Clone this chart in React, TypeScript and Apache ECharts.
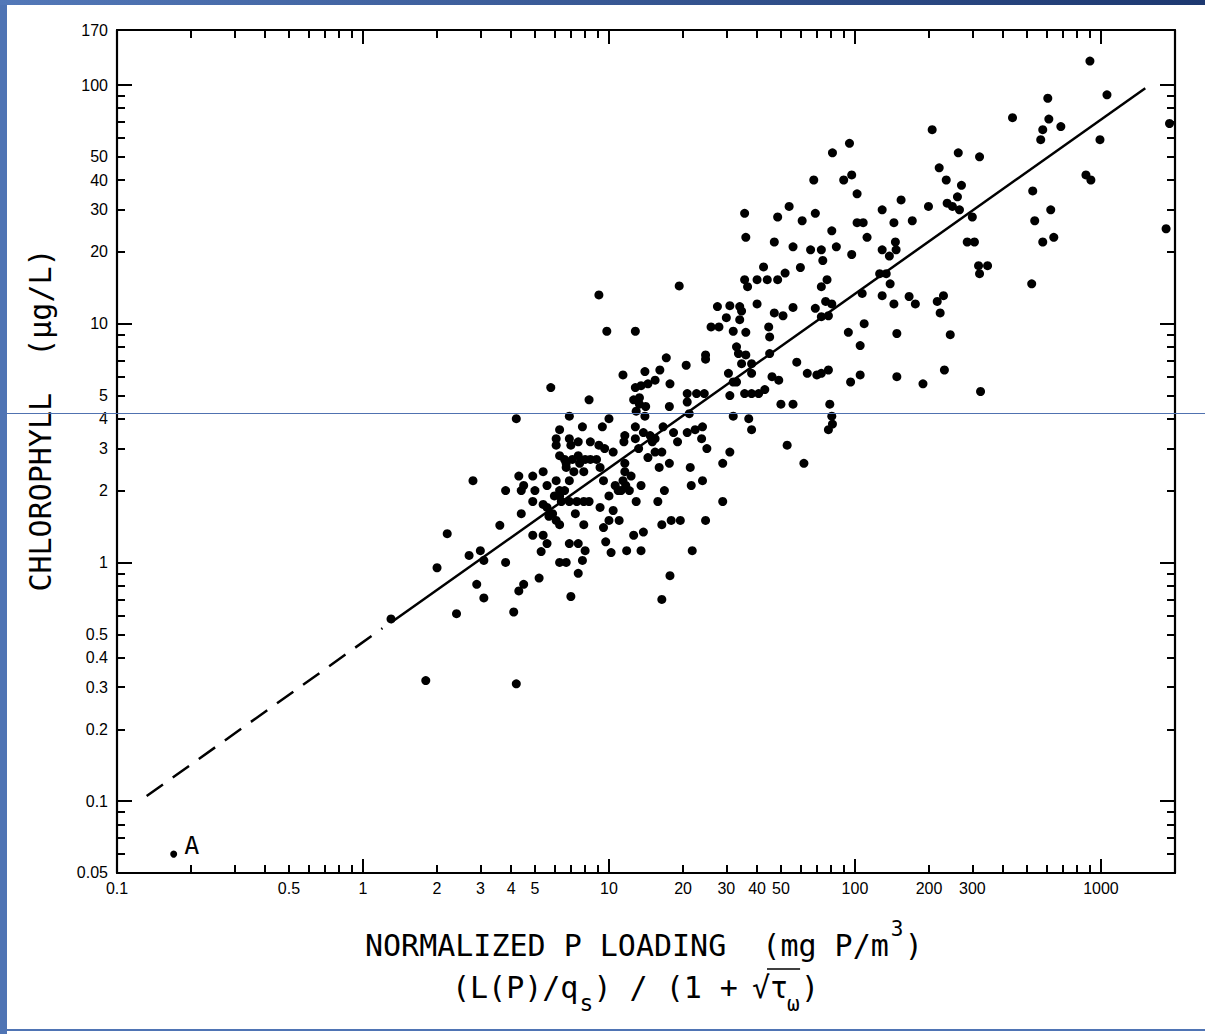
import React, { useEffect, useRef } from "react";
import * as echarts from "echarts";

// ---------- axes ----------
const X_MIN = 0.1;
const X_MAX = 2000;
const Y_MIN = 0.05;
const Y_MAX = 170;
const xTickLabels = [0.1, 0.5, 1, 2, 3, 4, 5, 10, 20, 30, 40, 50, 100, 200, 300, 1000];
const yTickLabels = [0.05, 0.1, 0.2, 0.3, 0.4, 0.5, 1, 2, 3, 4, 5, 10, 20, 30, 40, 50, 100, 170];
const xMinorTicks = [0.2, 0.3, 0.4, 0.5, 0.6, 0.7, 0.8, 0.9, 2, 3, 4, 5, 6, 7, 8, 9, 20, 30, 40, 50, 60, 70, 80, 90, 200, 300, 400, 500, 600, 700, 800, 900];
const xMajorTicks = [1, 10, 100, 1000];
const yMinorTicks = [0.06, 0.07, 0.08, 0.09, 0.2, 0.3, 0.4, 0.5, 0.6, 0.7, 0.8, 0.9, 2, 3, 4, 5, 6, 7, 8, 9, 20, 30, 40, 50, 60, 70, 80, 90];
const yMajorTicks = [0.1, 1, 10, 100];

// ---------- fitted line ----------
const fitDashed = [[0.132, 0.105], [1.2, 0.53]];
const fitSolid = [[1.3, 0.56], [1514, 97]];

// ---------- lake "A" ----------
const pointA = [0.17, 0.06];

// ---------- observations: [normalized P loading, chlorophyll] ----------
const lakesLowLoad = [
  [1.3, 0.58], [1.8, 0.32], [4.2, 0.31], [2.0, 0.95], [2.2, 1.32], [2.4, 0.61], [2.7, 1.07], [2.8, 2.2],
  [2.9, 0.81], [3.0, 1.12], [3.1, 0.71], [3.1, 1.02], [3.6, 1.43], [3.8, 1.0], [4.1, 0.62], [4.2, 4.0],
  [4.3, 0.76], [4.5, 0.81], [3.8, 2.0], [4.4, 2.0], [4.4, 1.6], [4.3, 2.3], [4.5, 2.1], [4.9, 2.3],
  [4.9, 1.8], [4.9, 1.3], [5.0, 2.0], [5.2, 0.86], [5.3, 1.11],
];

const lakesMidLoad = [
  [5.4, 2.4], [5.4, 1.75], [5.4, 1.3], [5.6, 1.2], [5.6, 1.7], [5.6, 2.1], [5.7, 1.56], [5.8, 5.4],
  [5.9, 1.6], [6.0, 1.9], [6.1, 2.2], [6.1, 1.5], [6.1, 3.3], [6.1, 3.1], [6.3, 3.6], [6.3, 2.0],
  [6.3, 1.44], [6.3, 1.0], [6.3, 2.8], [6.3, 1.9], [6.4, 1.8], [6.6, 2.7], [6.6, 2.0], [6.7, 2.6],
  [6.7, 2.5], [6.7, 1.0], [6.9, 4.1], [6.9, 1.8], [6.9, 1.2], [6.9, 3.3], [6.9, 2.2], [7.0, 3.1],
  [7.0, 0.72], [7.1, 2.7], [7.2, 2.4], [7.3, 1.6], [7.4, 1.8], [7.5, 1.2], [7.5, 0.9], [7.5, 3.2],
  [7.5, 2.8], [7.6, 2.6], [7.8, 1.02], [7.8, 3.7], [7.9, 2.4], [7.9, 1.8], [7.9, 1.44], [8.0, 2.7],
  [8.0, 1.12], [8.3, 4.8], [8.3, 1.8], [8.4, 2.7], [8.4, 3.2], [8.9, 2.7], [9.1, 13.2], [9.1, 3.1],
  [9.2, 2.5], [9.2, 1.7], [9.4, 3.7], [9.5, 2.2], [9.5, 1.4], [9.6, 3.0], [9.7, 1.22], [9.8, 9.3],
];

const lakesModerateLoad = [
  [10, 4.0], [10, 1.9], [10, 1.5], [10.2, 1.1], [10.4, 2.9], [10.4, 1.65], [10.6, 2.1], [10.9, 2.0],
  [11.0, 1.5], [11.2, 2.0], [11.4, 6.1], [11.4, 2.2], [11.5, 3.2], [11.6, 3.4], [11.6, 2.6], [11.6, 2.4],
  [11.7, 2.1], [11.8, 1.12], [12.1, 2.0], [12.3, 2.3], [12.6, 4.8], [12.6, 1.3], [12.8, 9.3], [12.8, 5.4],
  [12.8, 3.7], [12.8, 3.3], [12.9, 4.3], [12.9, 1.8], [13.2, 3.0], [13.3, 4.9], [13.3, 4.6], [13.5, 5.5],
  [13.5, 2.1], [13.5, 1.12], [13.8, 3.5], [13.8, 1.34], [14.0, 6.3], [14.0, 4.1], [14.1, 4.5], [14.4, 5.6],
  [14.4, 2.75], [14.7, 3.4], [15.0, 3.2], [15.4, 5.8], [15.4, 3.3], [15.4, 2.9], [15.8, 1.8], [16.0, 2.5],
  [16.1, 6.4], [16.4, 2.9], [16.4, 1.44], [16.4, 0.7], [16.6, 3.7], [16.8, 2.0], [17.1, 7.2], [17.6, 4.5],
  [17.6, 2.6], [17.7, 5.6], [17.7, 0.88], [17.9, 1.5], [18.3, 3.5], [19, 3.2], [19.3, 14.4], [19.5, 1.5],
  [20.6, 6.7], [20.8, 5.1], [20.8, 4.7], [20.8, 3.5], [21.2, 4.2], [21.4, 2.5], [21.6, 2.1], [21.8, 1.12],
  [22.4, 3.6], [22.7, 5.1], [23.8, 3.3], [24, 3.7], [24, 2.2], [24.4, 5.1], [24.7, 7.4], [24.7, 7.1],
  [24.7, 1.5], [25, 3.0], [26, 9.7], [27.6, 11.8], [28, 9.7], [29, 2.6], [29, 1.8], [30, 10.6],
];

const lakesHighLoad = [
  [30.6, 6.2], [31, 11.9], [31, 5.0], [31, 2.9], [32, 9.3], [32, 5.7], [32, 4.1], [33, 8.0],
  [33, 5.7], [33.6, 7.5], [34, 11.8], [34, 10.4], [34.6, 11.3], [34.6, 6.8], [35.6, 15.3], [35.6, 5.1],
  [35.6, 29], [36, 7.4], [36, 23], [36, 9.2], [36.6, 14.3], [37, 4.0], [38, 6.8], [38, 6.2],
  [38, 5.1], [38, 3.6], [40, 15.3], [40, 12.1], [40.6, 5.1], [42.5, 17.3], [43, 5.3], [44, 15.3],
  [44.6, 9.7], [45, 7.5], [45, 8.8], [46, 6.0], [47, 11.1], [47, 22], [48.5, 28], [48.5, 15.3],
  [49, 5.8], [50, 4.6], [51, 10.8], [52, 16.3], [53, 3.1], [54, 31], [56, 21], [56, 4.6],
  [56, 11.7], [58, 6.9], [60, 17.2], [61, 27], [62, 2.6], [64, 6.2], [66, 20.4], [68, 40],
  [69, 29], [69, 11.6], [70, 6.1], [73, 20.4], [73, 14.3], [73, 10.7], [73, 6.2], [74, 18.4],
  [76, 12.4], [77, 15.3], [78, 10.8], [78, 6.4], [78, 3.6], [79, 4.6], [80.5, 24.5], [80.5, 12.1],
  [80.5, 4.1], [81, 52], [81, 3.8], [84, 21], [90, 40], [94, 9.2], [95, 57], [96, 5.7],
  [97, 42], [97, 19.5],
];

const lakesVeryHighLoad = [
  [102, 35], [102, 26.5], [105, 8.1], [105, 6.1], [107, 13.4], [108, 26.5], [109, 10], [112, 23],
  [126, 16.2], [129, 30], [129, 20.4], [129, 13.1], [134, 16.2], [138, 19.2], [139, 14.7], [144, 26.5],
  [144, 12.1], [146, 22], [147, 20.4], [148, 9.1], [148, 6.0], [154, 33], [166, 13], [171, 27],
  [176, 12.1], [189, 5.6], [199, 31], [206, 65], [216, 12.4], [220, 45], [222, 11.1], [229, 13.1],
  [231, 6.4], [235, 40], [237, 32], [244, 9.0], [249, 31], [261, 34], [263, 52], [266, 30],
  [271, 38], [286, 22], [300, 28], [306, 22], [318, 17.5], [321, 50], [321, 16.2], [324, 5.2],
  [346, 17.5], [437, 73], [523, 14.7], [528, 36], [538, 27], [569, 59], [580, 65], [580, 22],
  [608, 88], [614, 72], [625, 30], [643, 23], [687, 67], [869, 42], [902, 126], [910, 40],
  [991, 59], [1058, 91], [1840, 25], [1900, 69],
];

const MONO = '"DejaVu Sans Mono", "Liberation Mono", monospace';
const TICK_FONT = '"Liberation Sans", Arial, sans-serif';

const fmt = (v: number) => String(parseFloat(Number(v).toPrecision(2)));
const edgeSafe = (arr: number[], min: number, max: number) =>
  arr.map((v) => (v <= min ? v * 1.0001 : v >= max ? v * 0.9999 : v));

function logAxis(min: number, max: number, position: string, extra: any) {
  return {
    type: "log",
    logBase: 10,
    min,
    max,
    position,
    splitLine: { show: false },
    minorTick: { show: false },
    minorSplitLine: { show: false },
    axisLine: { show: false, onZero: false },
    axisLabel: { show: false },
    axisTick: { show: false },
    ...extra,
  };
}

const tickStyle = { color: "#000", width: 2 };
const lineStyleAxis = { color: "#000", width: 2.2 };

function buildOption() {
  const labelStyle = { color: "#000", fontSize: 16, fontFamily: TICK_FONT, formatter: fmt };
  const xAxis = [
    logAxis(X_MIN, X_MAX, "bottom", {
      axisLine: { show: true, onZero: false, lineStyle: lineStyleAxis },
      axisTick: { show: true, inside: true, length: 8, customValues: xMinorTicks, lineStyle: tickStyle },
      axisLabel: { show: true, margin: 7, customValues: edgeSafe(xTickLabels, X_MIN, X_MAX), ...labelStyle },
    }),
    logAxis(X_MIN, X_MAX, "bottom", {
      axisTick: { show: true, inside: true, length: 14, customValues: xMajorTicks, lineStyle: tickStyle },
    }),
    logAxis(X_MIN, X_MAX, "top", {
      axisLine: { show: true, onZero: false, lineStyle: lineStyleAxis },
      axisTick: { show: true, inside: true, length: 8, customValues: xMinorTicks, lineStyle: tickStyle },
    }),
    logAxis(X_MIN, X_MAX, "top", {
      axisTick: { show: true, inside: true, length: 14, customValues: xMajorTicks, lineStyle: tickStyle },
    }),
  ];
  const yAxis = [
    logAxis(Y_MIN, Y_MAX, "left", {
      axisLine: { show: true, onZero: false, lineStyle: lineStyleAxis },
      axisTick: { show: true, inside: true, length: 8, customValues: yMinorTicks, lineStyle: tickStyle },
      axisLabel: { show: true, margin: 9, customValues: edgeSafe(yTickLabels, Y_MIN, Y_MAX), ...labelStyle },
    }),
    logAxis(Y_MIN, Y_MAX, "left", {
      axisTick: { show: true, inside: true, length: 15, customValues: yMajorTicks, lineStyle: tickStyle },
    }),
    logAxis(Y_MIN, Y_MAX, "right", {
      axisLine: { show: true, onZero: false, lineStyle: lineStyleAxis },
      axisTick: { show: true, inside: true, length: 8, customValues: yMinorTicks, lineStyle: tickStyle },
    }),
    logAxis(Y_MIN, Y_MAX, "right", {
      axisTick: { show: true, inside: true, length: 15, customValues: yMajorTicks, lineStyle: tickStyle },
    }),
  ];

  const scatterGroups = [lakesLowLoad, lakesMidLoad, lakesModerateLoad, lakesHighLoad, lakesVeryHighLoad];
  const series: any[] = scatterGroups.map((g) => ({
    type: "scatter",
    data: g,
    symbol: "circle",
    symbolSize: 9,
    itemStyle: { color: "#000", opacity: 1 },
    xAxisIndex: 0,
    yAxisIndex: 0,
    silent: true,
    z: 3,
  }));
  series.push({
    type: "scatter",
    data: [
      {
        value: pointA,
        label: {
          show: true,
          formatter: "A",
          position: "right",
          distance: 7,
          offset: [0, -9],
          fontSize: 25,
          fontFamily: MONO,
          color: "#000",
        },
      },
    ],
    symbolSize: 7,
    itemStyle: { color: "#000", opacity: 1 },
    xAxisIndex: 0,
    yAxisIndex: 0,
    silent: true,
  });
  series.push({
    type: "line",
    data: fitDashed,
    showSymbol: false,
    symbol: "none",
    lineStyle: { color: "#000", width: 2.5, type: [20, 12], opacity: 1 },
    xAxisIndex: 0,
    yAxisIndex: 0,
    silent: true,
    z: 2,
  });
  series.push({
    type: "line",
    data: fitSolid,
    showSymbol: false,
    symbol: "none",
    lineStyle: { color: "#000", width: 2.5, opacity: 1 },
    xAxisIndex: 0,
    yAxisIndex: 0,
    silent: true,
    z: 2,
  });

  const txt = (text: string, x: number, y: number, size: number, extra: any = {}) => ({
    type: "text",
    x,
    y,
    silent: true,
    z: 50,
    ...extra,
    style: {
      text,
      font: `${size}px ${MONO}`,
      fill: "#000",
      align: "left",
      textAlign: "left",
      verticalAlign: "middle",
      textVerticalAlign: "middle",
      ...(extra.style || {}),
    },
  });

  const pitch = 18.06; // DejaVu Sans Mono 30px advance
  const l2x = 452;
  const graphic: any[] = [
    // frame of the scanned slide
    { type: "rect", shape: { x: 0, y: 0, width: 7, height: 1034 }, style: { fill: "#4f74b4" }, silent: true, z: 60 },
    {
      type: "rect",
      shape: { x: 0, y: 0, width: 1205, height: 5 },
      style: {
        fill: new echarts.graphic.LinearGradient(0, 0, 1, 0, [
          { offset: 0, color: "#5378b8" },
          { offset: 1, color: "#1d3870" },
        ]),
      },
      silent: true,
      z: 60,
    },
    { type: "rect", shape: { x: 0, y: 1029, width: 1205, height: 2 }, style: { fill: "#4f74b4" }, silent: true, z: 60 },
    { type: "line", shape: { x1: 7, y1: 413.5, x2: 1205, y2: 413.5 }, style: { stroke: "#5072b0", lineWidth: 1 }, silent: true, z: 60 },
    // y-axis title
    txt("CHLOROPHYLL  (µg/L)", 40, 420, 30, { rotation: Math.PI / 2, style: { align: "center", textAlign: "center" } }),
    // x-axis title, line 1
    txt("NORMALIZED P LOADING  (mg P/m", 365, 945, 30),
    txt("3", 365 + 29 * pitch + 2, 929, 21),
    txt(")", 365 + 29 * pitch + 16, 945, 30),
    // x-axis title, line 2
    txt("(L(P)/q", l2x, 987, 30),
    txt("s", l2x + 7 * pitch + 1, 1003, 23),
    txt(") / (1 +", l2x + 7 * pitch + 15, 987, 30),
    txt("√", l2x + 16 * pitch + 11, 987, 30),
    txt("τ", l2x + 17 * pitch + 11, 987, 30),
    txt("ω", l2x + 18 * pitch + 10, 1004, 21),
    txt(")", l2x + 18 * pitch + 24, 987, 30),
    {
      type: "line",
      shape: { x1: l2x + 17 * pitch + 8, y1: 969, x2: l2x + 18 * pitch + 23, y2: 969 },
      style: { stroke: "#000", lineWidth: 1.6 },
      silent: true,
      z: 50,
    },
  ];

  return {
    animation: false,
    backgroundColor: "#fff",
    grid: { left: 117, top: 30, width: 1058, height: 843, containLabel: false, outerBoundsMode: "none" },
    xAxis,
    yAxis,
    series,
    graphic,
  };
}

export default function App() {
  const ref = useRef<HTMLDivElement>(null);
  useEffect(() => {
    if (!ref.current) return;
    const chart = echarts.init(ref.current, undefined, { renderer: "svg" });
    chart.setOption(buildOption() as any);
    return () => chart.dispose();
  }, []);
  return (
    <div
      ref={ref}
      style={{ position: "absolute", left: 0, top: 0, width: 1205, height: 1034, background: "#fff" }}
    />
  );
}
